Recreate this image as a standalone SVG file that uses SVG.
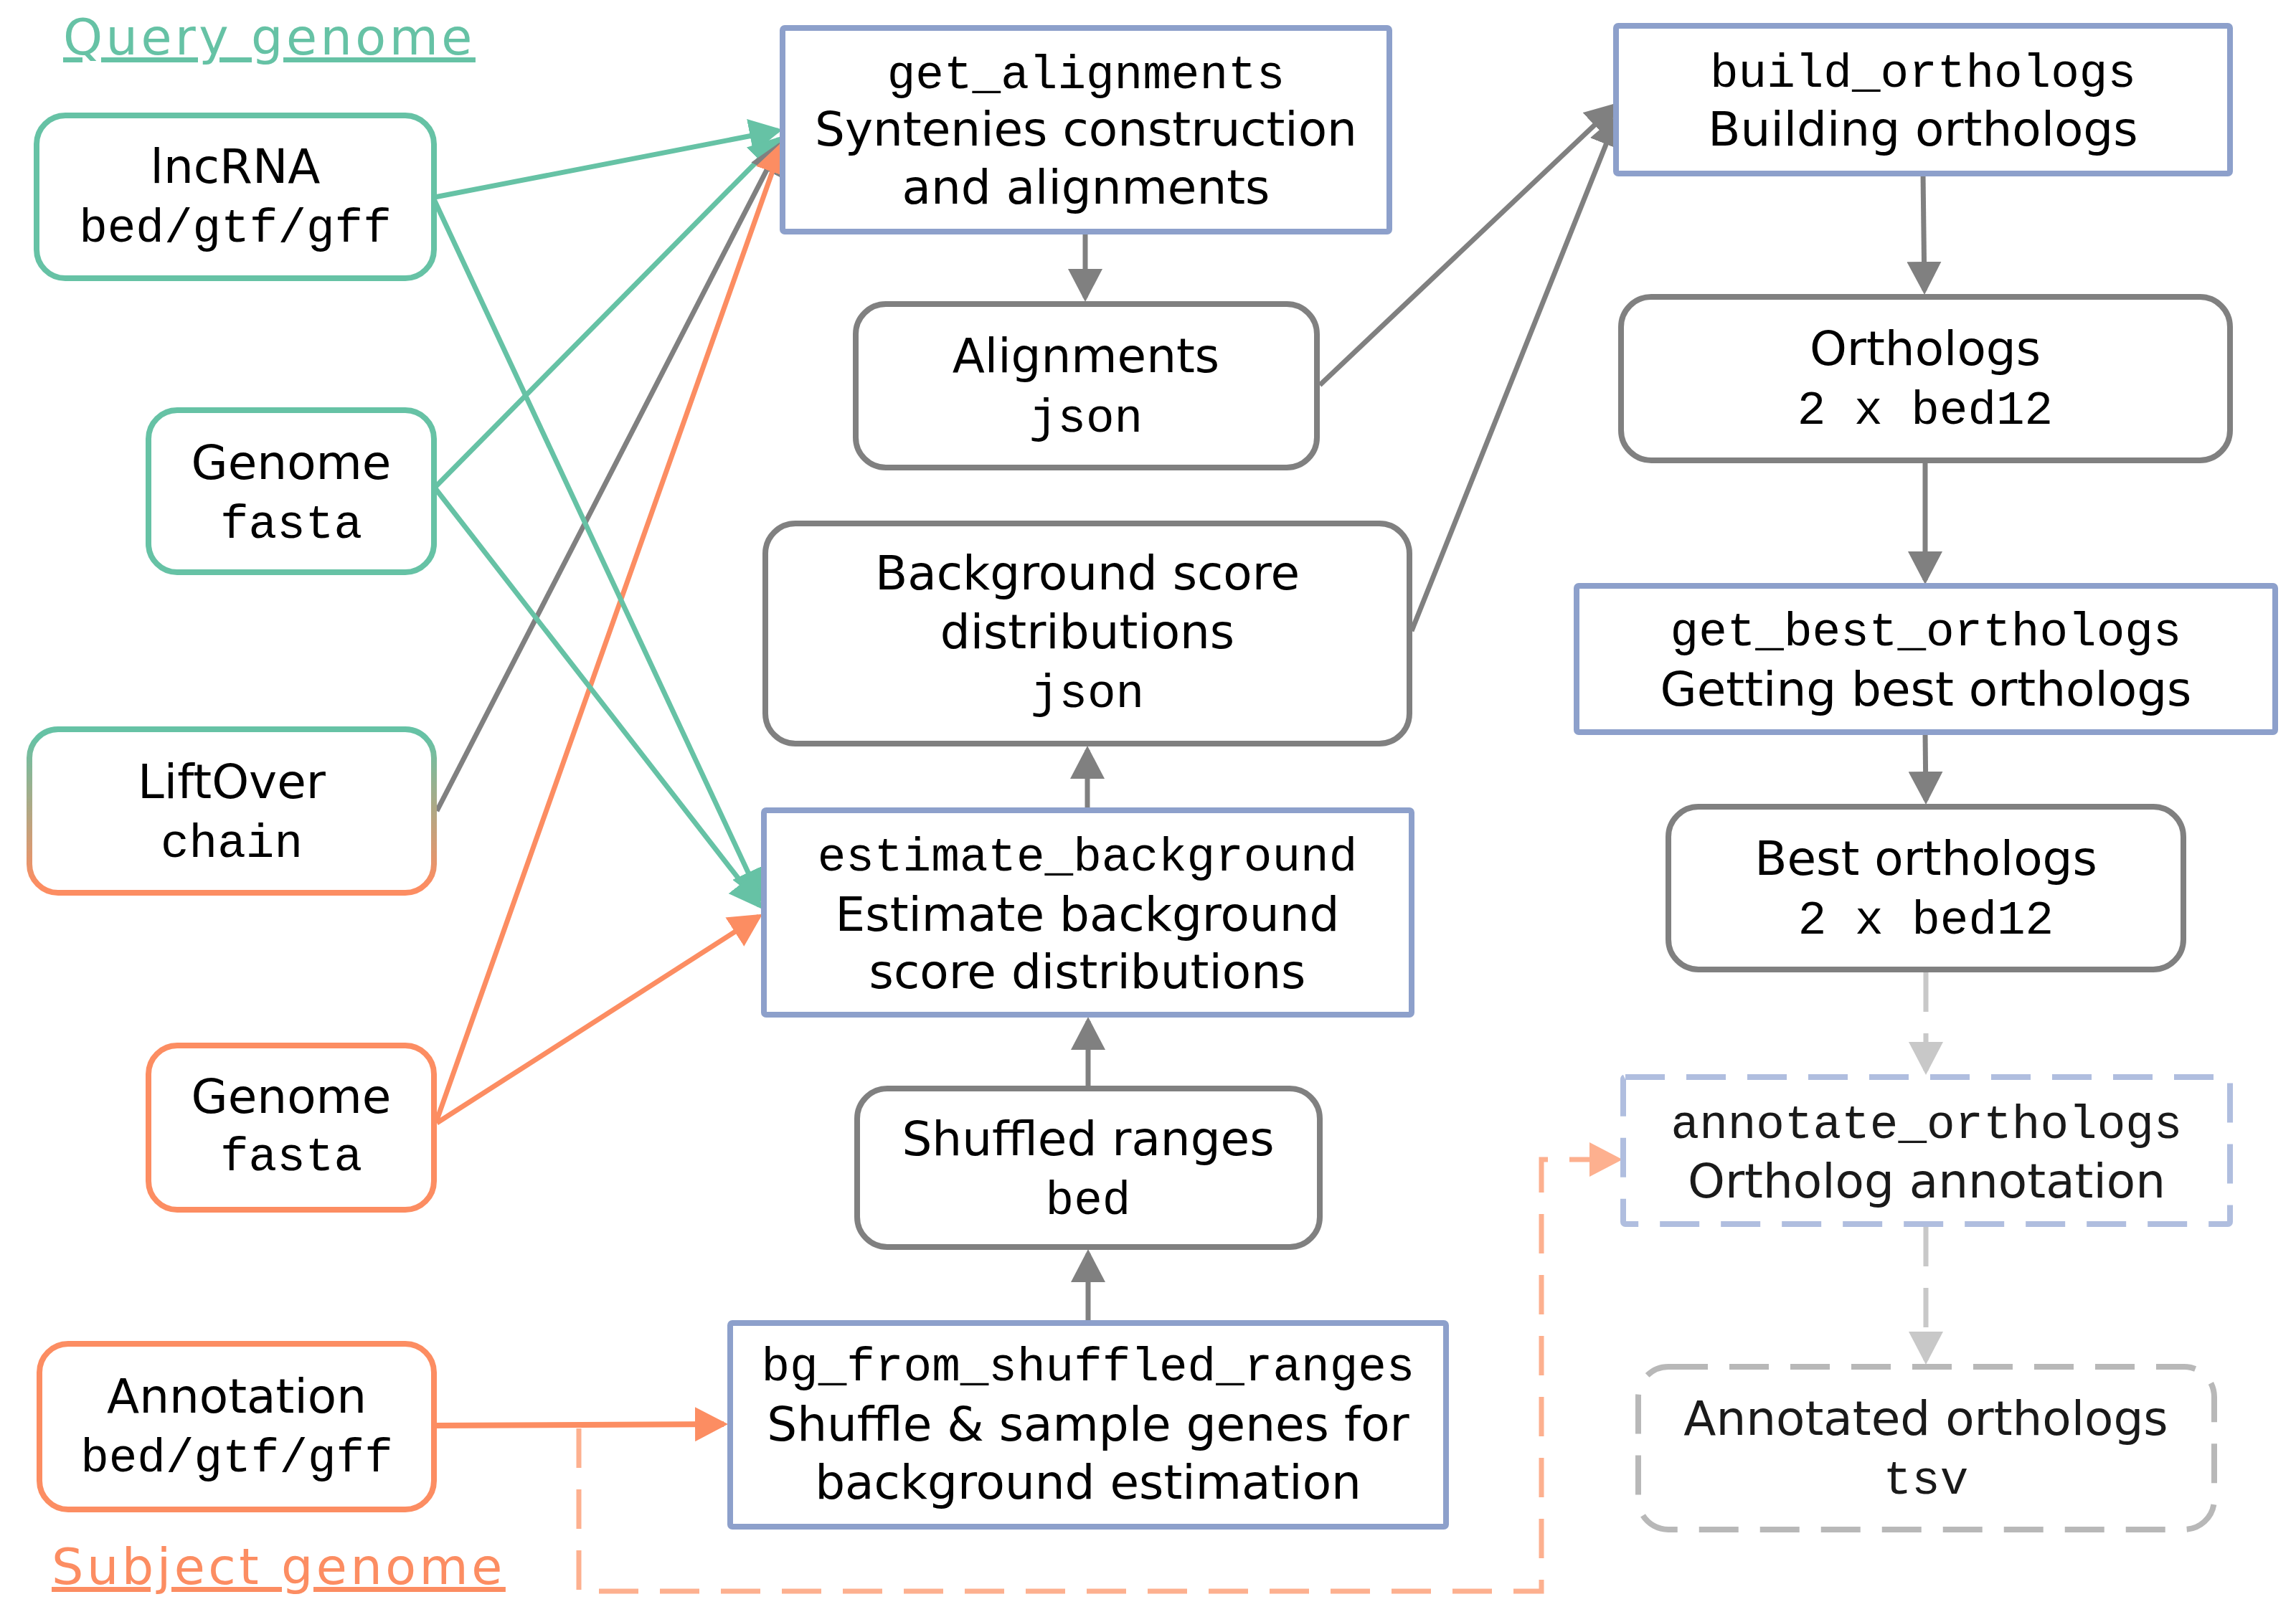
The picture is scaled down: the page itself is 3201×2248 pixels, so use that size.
<svg xmlns="http://www.w3.org/2000/svg" width="3201" height="2248" viewBox="0 0 3201 2248">
<style>
.t{font-family:"DejaVu Sans","Liberation Sans",sans-serif;font-size:66px;text-anchor:middle;fill:#000}
.m{font-family:"Liberation Mono","DejaVu Sans Mono",monospace;font-size:66px;text-anchor:middle;fill:#000}
.ttl{font-family:"DejaVu Sans","Liberation Sans",sans-serif;font-size:70px;letter-spacing:4.5px;text-decoration:underline}
.in{fill:#fff;stroke-width:8}
.proc{fill:#fff;stroke:#8da0cb;stroke-width:8}
.data{fill:#fff;stroke:#808080;stroke-width:8}
.c{fill:none;stroke-width:7}
.g{stroke:#66c2a5}
.o{stroke:#fc8d62}
.k{stroke:#808080}
.lk{stroke:#c8c8c8}
.lo{stroke:#fdb08f}
.dash{stroke-dasharray:55 30}
.faint{fill:#1a1a1a}
</style>
<defs>
<marker id="aG" markerUnits="userSpaceOnUse" markerWidth="46" markerHeight="48" refX="40" refY="24" orient="auto"><path d="M0,0 L46,24 L0,48 z" fill="#66c2a5"/></marker>
<marker id="aO" markerUnits="userSpaceOnUse" markerWidth="46" markerHeight="48" refX="40" refY="24" orient="auto"><path d="M0,0 L46,24 L0,48 z" fill="#fc8d62"/></marker>
<marker id="aK" markerUnits="userSpaceOnUse" markerWidth="46" markerHeight="48" refX="40" refY="24" orient="auto"><path d="M0,0 L46,24 L0,48 z" fill="#808080"/></marker>
<marker id="aLK" markerUnits="userSpaceOnUse" markerWidth="46" markerHeight="48" refX="40" refY="24" orient="auto"><path d="M0,0 L46,24 L0,48 z" fill="#c8c8c8"/></marker>
<marker id="aLO" markerUnits="userSpaceOnUse" markerWidth="46" markerHeight="48" refX="40" refY="24" orient="auto"><path d="M0,0 L46,24 L0,48 z" fill="#fdb08f"/></marker>
<linearGradient id="lift" x1="0" y1="0" x2="0" y2="1">
<stop offset="0.05" stop-color="#66c2a5"/>
<stop offset="0.95" stop-color="#fc8d62"/>
</linearGradient>
</defs>

<g id="connectors">
<line class="c g" x1="606" y1="275" x2="1085" y2="182" marker-end="url(#aG)"/>
<line class="c g" x1="606" y1="680" x2="1086" y2="194" marker-end="url(#aG)"/>
<line class="c k" x1="609" y1="1131" x2="1087" y2="202" marker-end="url(#aK)"/>
<line class="c o" x1="609" y1="1562" x2="1090" y2="202" marker-end="url(#aO)"/>
<line class="c g" x1="606" y1="280" x2="1060" y2="1253" marker-end="url(#aG)"/>
<line class="c g" x1="606" y1="680" x2="1059" y2="1263" marker-end="url(#aG)"/>
<line class="c o" x1="609" y1="1566" x2="1058" y2="1278" marker-end="url(#aO)"/>
<line class="c k" x1="1840" y1="537" x2="2252" y2="147" marker-end="url(#aK)"/>
<line class="c k" x1="1968" y1="880" x2="2254" y2="164" marker-end="url(#aK)"/>
<line class="c k" x1="1513" y1="323" x2="1513" y2="415" marker-end="url(#aK)"/>
<line class="c k" x1="1516" y1="1130" x2="1516" y2="1046" marker-end="url(#aK)"/>
<line class="c k" x1="1517" y1="1518" x2="1517" y2="1424" marker-end="url(#aK)"/>
<line class="c k" x1="1517" y1="1845" x2="1517" y2="1748" marker-end="url(#aK)"/>
<line class="c k" x1="2681" y1="242" x2="2683" y2="405" marker-end="url(#aK)"/>
<line class="c k" x1="2684" y1="642" x2="2684" y2="809" marker-end="url(#aK)"/>
<line class="c k" x1="2684" y1="1021" x2="2685" y2="1116" marker-end="url(#aK)"/>
<line class="c lk dash" x1="2685" y1="1356" x2="2685" y2="1493" marker-end="url(#aLK)"/>
<line class="c lk dash" x1="2685" y1="1711" x2="2685" y2="1897" marker-end="url(#aLK)"/>
<line class="c o" style="stroke-width:8" x1="605" y1="1988" x2="1009" y2="1986" marker-end="url(#aO)"/>
<path class="c lo dash" d="M807,1992 V2219 H2149 V1617 H2256" marker-end="url(#aLO)"/>
</g>

<g id="title-query"><text class="ttl" x="88" y="76" fill="#66c2a5">Query genome</text></g>
<g id="title-subject"><text class="ttl" x="72" y="2209" fill="#fc8d62">Subject genome</text></g>

<g id="lncrna">
<rect class="in" x="51" y="161" width="554" height="227" rx="40" stroke="#66c2a5"/>
<text class="t" x="328" y="255">lncRNA</text>
<text class="m" x="328" y="337">bed/gtf/gff</text>
</g>
<g id="genome-query">
<rect class="in" x="207" y="572" width="398" height="226" rx="40" stroke="#66c2a5"/>
<text class="t" x="406" y="668">Genome</text>
<text class="m" x="406" y="750">fasta</text>
</g>
<g id="liftover">
<rect class="in" x="41" y="1017" width="564" height="228" rx="40" stroke="url(#lift)"/>
<text class="t" x="323" y="1113">LiftOver</text>
<text class="m" x="323" y="1195">chain</text>
</g>
<g id="genome-subject">
<rect class="in" x="207" y="1458" width="398" height="229" rx="40" stroke="#fc8d62"/>
<text class="t" x="406" y="1552">Genome</text>
<text class="m" x="406" y="1632">fasta</text>
</g>
<g id="annotation">
<rect class="in" x="55" y="1874" width="550" height="231" rx="40" stroke="#fc8d62"/>
<text class="t" x="330" y="1970">Annotation</text>
<text class="m" x="330" y="2052">bed/gtf/gff</text>
</g>

<g id="get-alignments">
<rect class="proc" x="1091" y="39" width="846" height="284" rx="3"/>
<text class="m" x="1514" y="123">get_alignments</text>
<text class="t" x="1514" y="203">Syntenies construction</text>
<text class="t" x="1514" y="284">and alignments</text>
</g>
<g id="alignments">
<rect class="data" x="1193" y="424" width="643" height="228" rx="42"/>
<text class="t" x="1514" y="519">Alignments</text>
<text class="m" x="1514" y="602">json</text>
</g>
<g id="background">
<rect class="data" x="1067" y="730" width="898" height="307" rx="42"/>
<text class="t" x="1516" y="822">Background score</text>
<text class="t" x="1516" y="904">distributions</text>
<text class="m" x="1516" y="986">json</text>
</g>
<g id="estimate-background">
<rect class="proc" x="1065" y="1130" width="903" height="285" rx="3"/>
<text class="m" x="1516" y="1214">estimate_background</text>
<text class="t" x="1516" y="1298">Estimate background</text>
<text class="t" x="1516" y="1378">score distributions</text>
</g>
<g id="shuffled">
<rect class="data" x="1195" y="1518" width="645" height="221" rx="42"/>
<text class="t" x="1517" y="1611">Shuffled ranges</text>
<text class="m" x="1517" y="1693">bed</text>
</g>
<g id="bg-from-shuffled">
<rect class="proc" x="1018" y="1845" width="998" height="284" rx="3"/>
<text class="m" x="1517" y="1925">bg_from_shuffled_ranges</text>
<text class="t" x="1517" y="2009">Shuffle &amp; sample genes for</text>
<text class="t" x="1517" y="2090">background estimation</text>
</g>

<g id="build-orthologs">
<rect class="proc" x="2253" y="36" width="856" height="206" rx="3"/>
<text class="m" x="2681" y="121">build_orthologs</text>
<text class="t" x="2681" y="203">Building orthologs</text>
</g>
<g id="orthologs">
<rect class="data" x="2260" y="414" width="849" height="228" rx="42"/>
<text class="t" x="2684" y="509">Orthologs</text>
<text class="m" x="2684" y="591">2 x bed12</text>
</g>
<g id="get-best-orthologs">
<rect class="proc" x="2198" y="817" width="974" height="204" rx="3"/>
<text class="m" x="2685" y="900">get_best_orthologs</text>
<text class="t" x="2685" y="984">Getting best orthologs</text>
</g>
<g id="best-orthologs">
<rect class="data" x="2326" y="1125" width="718" height="227" rx="42"/>
<text class="t" x="2685" y="1220">Best orthologs</text>
<text class="m" x="2685" y="1302">2 x bed12</text>
</g>
<g id="annotate-orthologs">
<rect x="2263" y="1502" width="846" height="205" rx="3" fill="#fff" stroke="#b0bedf" stroke-width="8" stroke-dasharray="55 30"/>
<text class="m faint" x="2686" y="1587">annotate_orthologs</text>
<text class="t faint" x="2686" y="1670">Ortholog annotation</text>
</g>
<g id="annotated-orthologs">
<rect x="2284" y="1906" width="803" height="227" rx="42" fill="#fff" stroke="#b8b8b8" stroke-width="8" stroke-dasharray="55 30"/>
<text class="t faint" x="2685" y="2001">Annotated orthologs</text>
<text class="m faint" x="2685" y="2083">tsv</text>
</g>
</svg>
